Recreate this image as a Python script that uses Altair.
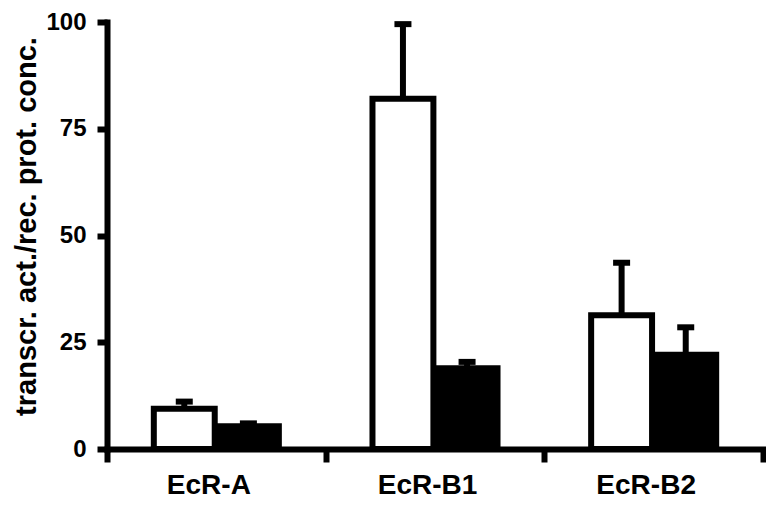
import altair as alt
import pandas as pd

categories = ["EcR-A", "EcR-B1", "EcR-B2"]
series = ["open", "filled"]
open_means = [9.4, 82.0, 31.3]
open_sem = [1.7, 17.5, 12.3]
filled_means = [5.3, 18.9, 22.1]
filled_sem = [0.7, 1.5, 6.4]
y_ticks = [0, 25, 50, 75, 100]

rows = []
for i, c in enumerate(categories):
    rows.append({"cat": c, "series": "open", "mean": open_means[i],
                 "top": open_means[i] + open_sem[i]})
    rows.append({"cat": c, "series": "filled", "mean": filled_means[i],
                 "top": filled_means[i] + filled_sem[i]})
df = pd.DataFrame(rows)

FONT = "Liberation Sans"

x = alt.X(
    "cat:N", sort=categories, title=None,
    scale=alt.Scale(paddingInner=0, paddingOuter=0),
    axis=alt.Axis(
        tickBand="extent", labelAngle=0, labelFont=FONT, labelFontSize=28,
        labelFontWeight="bold", labelColor="black", labelPadding=9,
        labelOffset=-8, tickSize=13, tickWidth=6, tickColor="black",
        domainColor="black", domainWidth=6, domainCap="square", grid=False,
    ),
)
xo = alt.XOffset("series:N", sort=series,
                 scale=alt.Scale(paddingInner=0.05, paddingOuter=0.73))
y_axis = alt.Axis(
    values=y_ticks, title="transcr. act./rec. prot. conc.", grid=False,
    labelFont=FONT, labelFontSize=24, labelFontWeight="bold", labelColor="black",
    labelPadding=11, tickSize=10, tickWidth=6, tickColor="black",
    domainColor="black", domainWidth=6, domainCap="square",
    titleFont=FONT, titleFontSize=29, titleFontWeight="bold", titleColor="black",
    titleAngle=270, titleX=-72, titleY=204, titleAlign="center",
    titleBaseline="alphabetic",
)
yscale = alt.Scale(domain=[0, 100], nice=False, zero=True)

base = alt.Chart(df)

stems = base.mark_rule(color="black", strokeWidth=6).encode(
    x=x, xOffset=xo,
    y=alt.Y("mean:Q", scale=yscale, axis=y_axis),
    y2="top:Q",
)
bars = base.mark_bar(stroke="black", strokeWidth=6).encode(
    x=x, xOffset=xo,
    y=alt.Y("mean:Q", scale=yscale, axis=y_axis),
    fill=alt.Fill("series:N", sort=series,
                  scale=alt.Scale(domain=series, range=["white", "black"]),
                  legend=None),
)
caps = base.mark_tick(color="black", thickness=6, size=17, opacity=1).encode(
    x=x, xOffset=xo,
    y=alt.Y("top:Q", scale=yscale, axis=y_axis),
)

chart = (
    alt.layer(stems, bars, caps)
    .properties(
        width=656, height=427,
        autosize=alt.AutoSizeParams(type="none"),
        padding={"left": 99, "top": 14, "right": 3, "bottom": 51},
        background="white",
    )
    .configure_view(stroke=None)
)

chart.save("out.html", embed_options={"renderer": "svg", "actions": False})
